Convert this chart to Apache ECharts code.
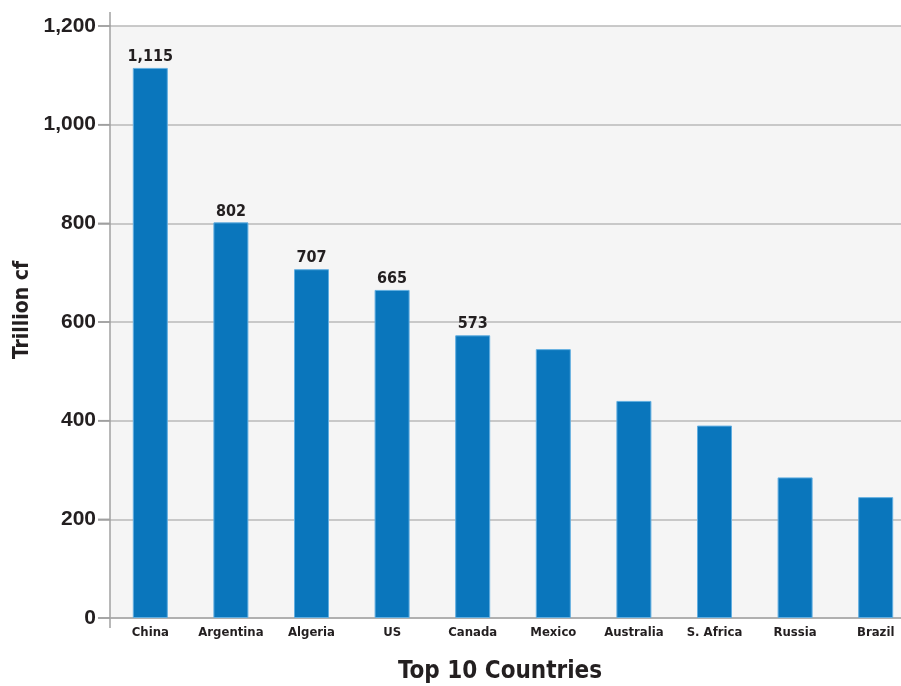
<!DOCTYPE html>
<html>
<head>
<meta charset="utf-8">
<script src="https://cdn.jsdelivr.net/npm/echarts@6/dist/echarts.min.js"></script>
<style>
  html, body { margin: 0; padding: 0; background: #ffffff; }
  #chart { width: 901px; height: 686px; }
</style>
</head>
<body>
<div id="chart"></div>
<script>
// Shale gas reserves, top 10 countries (trillion cubic feet)
const countries = ['China', 'Argentina', 'Algeria', 'US', 'Canada', 'Mexico', 'Australia', 'S. Africa', 'Russia', 'Brazil'];
const reserves = [1115, 802, 707, 665, 573, 545, 440, 390, 285, 245];
// Only the five largest carry a value label
const labelledCount = 5;
const yTicks = { min: 0, max: 1200, interval: 200 };

const textColor = '#231f20';
const axisGray = '#a0a0a0';
const condensed = 'Liberation Sans Narrow, DejaVu Sans Condensed, sans-serif';
const numFmt = v => v.toLocaleString('en-US');

const chart = echarts.init(document.getElementById('chart'), null, { renderer: 'canvas' });

chart.setOption({
  backgroundColor: '#ffffff',
  animation: false,
  grid: {
    left: 110, right: -15, top: 26, bottom: 68,
    outerBoundsMode: 'none', containLabel: false,
    show: true, backgroundColor: '#f5f5f5', borderWidth: 0
  },
  xAxis: {
    type: 'category',
    data: countries,
    name: 'Top 10 Countries',
    nameLocation: 'middle',
    nameGap: 42,
    nameTextStyle: {
      fontFamily: condensed,
      fontWeight: 'bold', fontSize: 24, color: textColor, padding: [0, 26, 0, 0]
    },
    axisLine: { show: true, lineStyle: { color: '#a8a8a8', width: 1.5 } },
    axisTick: { show: false },
    axisLabel: {
      interval: 0,
      margin: 8,
      fontFamily: condensed,
      fontWeight: 'bold', fontSize: 13, color: textColor
    }
  },
  yAxis: {
    type: 'value',
    min: yTicks.min, max: yTicks.max, interval: yTicks.interval,
    name: 'Trillion cf',
    nameLocation: 'middle',
    nameGap: 77,
    nameTextStyle: {
      fontFamily: condensed,
      fontWeight: 'bold', fontSize: 21, color: textColor, padding: [0, 0, 0, 24]
    },
    axisLine: { show: true, lineStyle: { color: axisGray, width: 1.5 } },
    axisTick: { show: true, length: 12, lineStyle: { color: axisGray, width: 1.5 } },
    axisLabel: {
      margin: 14,
      formatter: v => numFmt(v),
      fontFamily: 'Liberation Sans, Arial, sans-serif',
      fontWeight: 'bold', fontSize: 21, color: textColor
    },
    splitLine: { show: true, lineStyle: { color: '#b8b8b8', width: 1.5 } }
  },
  series: [{
    type: 'bar',
    data: reserves.map((v, i) => ({
      value: v,
      label: { show: i < labelledCount }
    })),
    barWidth: 35,
    itemStyle: { color: '#0a76bc', borderColor: '#62aee0', borderWidth: 1 },
    label: {
      position: 'top',
      distance: 3,
      formatter: p => numFmt(p.value),
      fontFamily: condensed,
      fontWeight: 'bold', fontSize: 16, color: textColor
    }
  }]
});

// Axis decorations: the vertical axis runs a little past both ends of the
// plot, and each value tick gets a short outward tick mark.
const plotTop = chart.convertToPixel({ yAxisIndex: 0 }, yTicks.max);
const plotBottom = chart.convertToPixel({ yAxisIndex: 0 }, yTicks.min);
const axisX = 110;
const decor = [
  { type: 'line', shape: { x1: axisX, y1: plotTop - 14, x2: axisX, y2: plotTop }, style: { stroke: axisGray, lineWidth: 1.5 } },
  { type: 'line', shape: { x1: axisX, y1: plotBottom, x2: axisX, y2: plotBottom + 10 }, style: { stroke: axisGray, lineWidth: 1.5 } }
];
for (let v = yTicks.min; v <= yTicks.max; v += yTicks.interval) {
  const y = chart.convertToPixel({ yAxisIndex: 0 }, v);
  decor.push({ type: 'line', shape: { x1: axisX - 12, y1: y, x2: axisX, y2: y }, style: { stroke: axisGray, lineWidth: 1.5 } });
}
chart.setOption({ graphic: decor });
</script>
</body>
</html>
